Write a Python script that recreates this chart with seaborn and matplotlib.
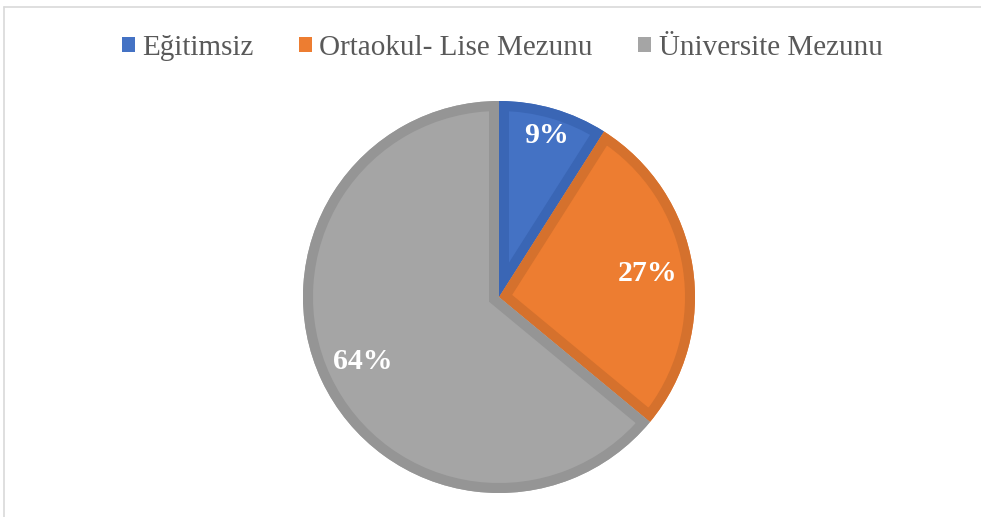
import matplotlib
matplotlib.use("Agg")
import matplotlib.pyplot as plt
import seaborn as sns
import numpy as np
from matplotlib.patches import Patch, Wedge
from matplotlib.lines import Line2D

categories = ["Eğitimsiz", "Ortaokul- Lise Mezunu", "Üniversite Mezunu"]
values = [9, 27, 64]
colors = ["#4472C4", "#ED7D31", "#A5A5A5"]
edge_colors = ["#3A66B5", "#D5712D", "#959595"]

sns.set_theme(style="white")
plt.rcParams["font.family"] = ["Liberation Serif", "DejaVu Serif"]

fig = plt.figure(figsize=(9.81, 5.17), dpi=100)
ax = fig.add_axes([(499 - 196) / 981, (220 - 196) / 517, 392 / 981, 392 / 517])

wedges, texts, autotexts = ax.pie(
    values, colors=colors, startangle=90, counterclock=False, radius=1,
    autopct=lambda p: f"{p:.0f}%", pctdistance=0.78,
    wedgeprops=dict(linewidth=0),
    textprops=dict(color="white", fontsize=21.5, fontweight="bold"),
)
# inner darker border: stroke clipped to the wedge itself
for w, ec in zip(wedges, edge_colors):
    b = Wedge(w.center, w.r, w.theta1, w.theta2, facecolor="none",
              edgecolor=ec, linewidth=14.4, zorder=w.get_zorder() + 0.1)
    ax.add_patch(b)
    b.set_clip_path(w)

# adjust label distances
total = sum(values)
start = 90.0
dists = [0.86, 0.77, 0.77]
for i, (v, t) in enumerate(zip(values, autotexts)):
    span = 360.0 * v / total
    mid = np.deg2rad(start - span / 2)
    t.set_position((dists[i] * np.cos(mid), dists[i] * np.sin(mid)))
    t.set_zorder(5)
    start -= span

ax.set_xlim(-1, 1)
ax.set_ylim(-1, 1)
ax.set_aspect("equal")
ax.axis("off")

handles = [Patch(facecolor=c, edgecolor="none") for c in colors]
fig.legend(handles, categories, loc="center", bbox_to_anchor=(0.512, 1 - 48 / 517),
           ncol=3, frameon=False, fontsize=21, handlelength=0.45, handleheight=0.45,
           handletextpad=0.25, columnspacing=1.55, labelcolor="#595959")

# border lines
fig.add_artist(Line2D([4 / 981, 1.0], [1 - 7 / 517, 1 - 7 / 517], color="#D9D9D9", lw=1.2, transform=fig.transFigure))
fig.add_artist(Line2D([4 / 981, 4 / 981], [0.0, 1 - 7 / 517], color="#D9D9D9", lw=1.2, transform=fig.transFigure))

fig.savefig("out.png", dpi=100)
